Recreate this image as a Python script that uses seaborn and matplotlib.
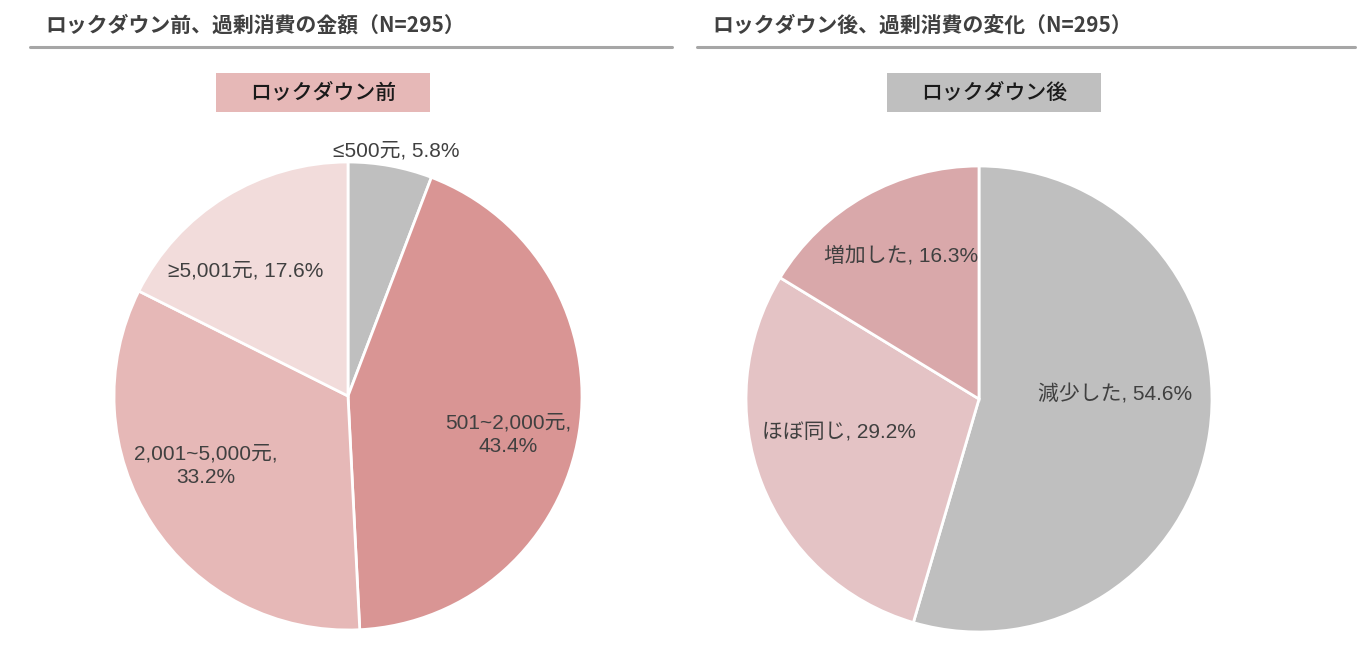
import seaborn as sns
import matplotlib.pyplot as plt
from matplotlib.patches import Rectangle
from matplotlib.lines import Line2D

sns.set_style('white')
plt.rcParams['font.family'] = ['Liberation Sans', 'Noto Sans CJK JP', 'DejaVu Sans']

# data
before_labels = ['≤500元, 5.8%', '501~2,000元,\n43.4%', '2,001~5,000元,\n33.2%', '≥5,001元, 17.6%']
before_values = [5.8, 43.4, 33.2, 17.6]
after_labels = ['減少した, 54.6%', 'ほぼ同じ, 29.2%', '増加した, 16.3%']
after_values = [54.6, 29.2, 16.3]

titles = ['ロックダウン前、過剰消費の金額（N=295）', 'ロックダウン後、過剰消費の変化（N=295）']
box_texts = ['ロックダウン前', 'ロックダウン後']

# styling
before_colors = ['#BFBFBF', '#D99594', '#E6B8B7', '#F2DCDB']
after_colors = ['#BFBFBF', '#E4C3C5', '#D9A8AA']
box_colors = ['#E6B8B7', '#BFBFBF']
# label positions in pie radius units (layout only)
before_lpos = [(0.205, 1.045), (0.684, -0.167), (-0.607, -0.299), (-0.436, 0.534)]
after_lpos = [(0.584, 0.021), (-0.601, -0.146), (-0.335, 0.614)]

W, H = 1372, 648
fig = plt.figure(figsize=(W / 100, H / 100), dpi=100)


def px_box(cx, cy, r):
    return [(cx - r) / W, (H - cy - r) / H, 2 * r / W, 2 * r / H]


def draw_pie(rect, values, colors, labels, lpos):
    ax = fig.add_axes(rect)
    ax.pie(values, colors=colors, startangle=90, counterclock=False, radius=1,
           wedgeprops=dict(edgecolor='white', linewidth=2))
    for lab, (x, y) in zip(labels, lpos):
        ax.text(x, y, lab, ha='center', va='center', fontsize=15, color='#404040',
                linespacing=1.3)
    ax.set_xlim(-1, 1)
    ax.set_ylim(-1, 1)
    ax.set_aspect('equal')
    ax.axis('off')
    return ax


draw_pie(px_box(348, 396, 234), before_values, before_colors, before_labels, before_lpos)
draw_pie(px_box(979, 399, 233), after_values, after_colors, after_labels, after_lpos)

# titles with underline
for title, tx, (lx0, lx1) in zip(titles, [45, 712], [(30, 672), (697, 1355)]):
    fig.text(tx / W, 1 - 25 / H, title, ha='left', va='center', fontsize=15,
             fontweight='bold', color='#404040', family=['Noto Sans CJK JP', 'DejaVu Sans'])
    fig.add_artist(Line2D([lx0 / W, lx1 / W], [1 - 47 / H, 1 - 47 / H],
                          color='#A6A6A6', lw=2.2, transform=fig.transFigure))

# header boxes
for txt, col, bx in zip(box_texts, box_colors, [216, 887]):
    fig.add_artist(Rectangle((bx / W, 1 - 112 / H), 214 / W, 39 / H, facecolor=col,
                             edgecolor='none', transform=fig.transFigure))
    fig.text((bx + 107) / W, 1 - 92.5 / H, txt, ha='center', va='center', fontsize=15,
             fontweight='medium', color='#1a1a1a', family=['Noto Sans CJK JP', 'DejaVu Sans'])

fig.savefig('out.png', dpi=100)
